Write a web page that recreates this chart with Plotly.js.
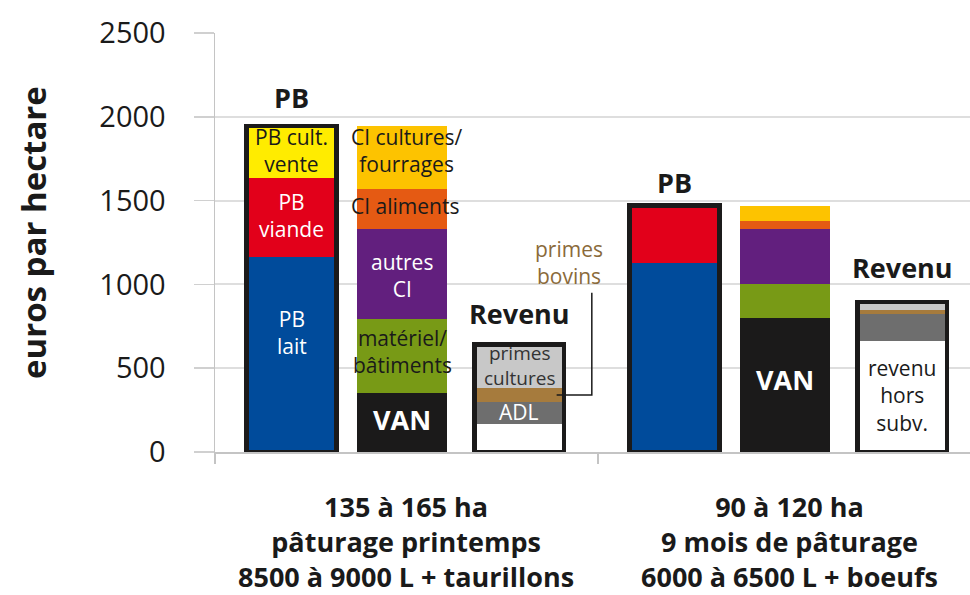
<!DOCTYPE html>
<html>
<head>
<meta charset="utf-8">
<script src="https://cdn.plot.ly/plotly-3.0.1.min.js"></script>
<style>html,body{margin:0;padding:0;background:#fff;overflow:hidden;}</style>
</head>
<body>
<div id="chart" style="width:970px;height:595px;"></div>
<script>
// ---- data (euros par hectare) ----
const groups = [
  ["135 à 165 ha", "pâturage printemps", "8500 à 9000 L + taurillons"],
  ["90 à 120 ha", "9 mois de pâturage", "6000 à 6500 L + boeufs"]
];
// Produit brut (PB)
const pbLait = [1165, 1130];
const pbViande = [470, 340];
const pbCultVente = [310, 0];
// Charges + VAN
const van = [350, 800];
const materielBatiments = [445, 200];
const autresCI = [535, 330];
const ciAliments = [240, 50];
const ciCulturesFourrages = [375, 90];
// Revenu
const revenuHorsSubv = [165, 665];
const adl = [135, 160];
const primesBovins = [80, 25];
const primesCultures = [260, 45];

// ---- layout helpers ----
const GROUP_W = 3.374;
const OFFS = [0.674, 1.65, 2.68];
const BAR_W = 0.79;
const xPos = (g, i) => g * GROUP_W + OFFS[i];
const xs = i => [0, 1].map(g => xPos(g, i));
const sum = (...arrs) => arrs[0].map((_, k) => arrs.reduce((s, a) => s + a[k], 0));

const FONT = "Open Sans, Noto Sans, sans-serif";
const IN = 21; // inner label size

function seg(name, x, y, color) {
  return {type: "bar", name, x, y, width: BAR_W, marker: {color, line: {width: 0}},
          hoverinfo: "name+y", showlegend: false};
}

const traces = [
  seg("PB lait", xs(0), pbLait, "#004b9b"),
  seg("PB viande", xs(0), pbViande, "#e2001a"),
  seg("PB cult. vente", xs(0), pbCultVente, "#ffec00"),
  seg("VAN", xs(1), van, "#1b1a1a"),
  seg("matériel/bâtiments", xs(1), materielBatiments, "#789a16"),
  seg("autres CI", xs(1), autresCI, "#621f7e"),
  seg("CI aliments", xs(1), ciAliments, "#e55a13"),
  seg("CI cultures/fourrages", xs(1), ciCulturesFourrages, "#fdc300"),
  seg("revenu hors subv.", xs(2), revenuHorsSubv, "#ffffff"),
  seg("ADL", xs(2), adl, "#6e6e6e"),
  seg("primes bovins", xs(2), primesBovins, "#a67b3d"),
  seg("primes cultures", xs(2), primesCultures, "#c8c8c8")
];

const pbTot = sum(pbLait, pbViande, pbCultVente);
const revTot = sum(revenuHorsSubv, adl, primesBovins, primesCultures);
// outlines of PB and Revenu bars (drawn on an overlaid axis so they do not stack)
traces.push({
  type: "bar", x: xs(0).concat(xs(2)), y: pbTot.concat(revTot), width: BAR_W,
  yaxis: "y2", marker: {color: "rgba(0,0,0,0)", line: {color: "#1b1a1a", width: 4.5}},
  hoverinfo: "skip", showlegend: false
});

const ann = [];
function label(text, x, y, size, color) {
  ann.push({
    text, x, y, xref: "x", yref: "y", showarrow: false,
    font: {family: FONT, size: size || IN, color: color || "#1a1a1a"},
    xanchor: "center", yanchor: "middle"
  });
}
const W = "#ffffff";
// left group labels
label("PB cult.<br>vente", xPos(0, 0), 1800);
label("PB<br>viande", xPos(0, 0), 1414, IN, W);
label("PB<br>lait", xPos(0, 0), 716, IN, W);
label("CI cultures/<br>fourrages", xPos(0, 1) + 0.04, 1800);
label("CI aliments", xPos(0, 1) + 0.02, 1468);
label("autres<br>CI", xPos(0, 1), 1056, IN, W);
label("matériel/<br>bâtiments", xPos(0, 1), 597);
label("<b>VAN</b>", xPos(0, 1), 191, 27, W);
label("primes<br>cultures", xPos(0, 2), 515, 19, "#333333");
label("ADL", xPos(0, 2), 239, IN, W);
label("primes<br>bovins", xPos(0, 2) + 0.44, 1128, IN, "#8a6a3a");
label("<b>PB</b>", xPos(0, 0), 2118, 27);
label("<b>Revenu</b>", xPos(0, 2), 829, 27);
// right group labels
label("<b>VAN</b>", xPos(1, 1), 430, 27, W);
label("revenu<br>hors<br>subv.", xPos(1, 2), 340, IN);
label("<b>PB</b>", xPos(1, 0), 1611, 27);
label("<b>Revenu</b>", xPos(1, 2), 1098, 27);

// group captions under the axis
groups.forEach((lines, g) => {
  ann.push({
    text: lines.map(t => "<b>" + t + "</b>").join("<br>"),
    x: g * GROUP_W + GROUP_W / 2, xref: "x",
    y: (452 - 541) / 419, yref: "paper", showarrow: false,
    xanchor: "center", yanchor: "middle",
    font: {family: FONT, size: 27, color: "#1a1a1a"}
  });
});
// y axis title
ann.push({
  text: "<b>euros par hectare</b>", x: (33 - 215) / 755, y: (452 - 233) / 419,
  xref: "paper", yref: "paper",
  textangle: -90, showarrow: false, xanchor: "center", yanchor: "middle",
  font: {family: FONT, size: 33, color: "#1a1a1a"}
});

// leader line for "primes bovins"
const pbMid = revenuHorsSubv[0] + adl[0] + primesBovins[0] / 2;
const lx1 = xPos(0, 2) + 0.33, lx2 = xPos(0, 2) + 0.64;
const shapes = [{
  type: "path", xref: "x", yref: "y",
  path: `M ${lx1},${pbMid} L ${lx2},${pbMid} L ${lx2},950`,
  line: {color: "#1a1a1a", width: 1.5}
}];

const layout = {
  width: 970, height: 595,
  margin: {l: 215, r: 0, t: 33, b: 143},
  paper_bgcolor: "#ffffff", plot_bgcolor: "#ffffff",
  barmode: "stack", bargap: 0,
  showlegend: false,
  xaxis: {
    range: [0, 755 / 113.5], showgrid: false, zeroline: false,
    showline: true, linecolor: "#c4c4c4", linewidth: 1.5,
    tickmode: "array", tickvals: [0, GROUP_W, 2 * GROUP_W], ticks: "outside",
    ticklen: 10, tickcolor: "#c4c4c4", tickwidth: 1.5, showticklabels: false, fixedrange: true
  },
  yaxis: {
    range: [0, 2500], tickvals: [0, 500, 1000, 1500, 2000, 2500],
    showgrid: true, gridcolor: "#dedede", gridwidth: 2, zeroline: false,
    showline: true, linecolor: "#c4c4c4", linewidth: 1.5,
    ticks: "outside", ticklen: 20, tickcolor: "#d0d0d0", tickwidth: 1.5,
    ticklabelstandoff: 22,
    tickfont: {family: FONT, size: 29, color: "#1a1a1a"}, fixedrange: true
  },
  yaxis2: {
    range: [0, 2500], overlaying: "y", visible: false, fixedrange: true
  },
  annotations: ann,
  shapes: shapes
};

Plotly.newPlot("chart", traces, layout, {displayModeBar: false, staticPlot: true});
</script>
</body>
</html>
